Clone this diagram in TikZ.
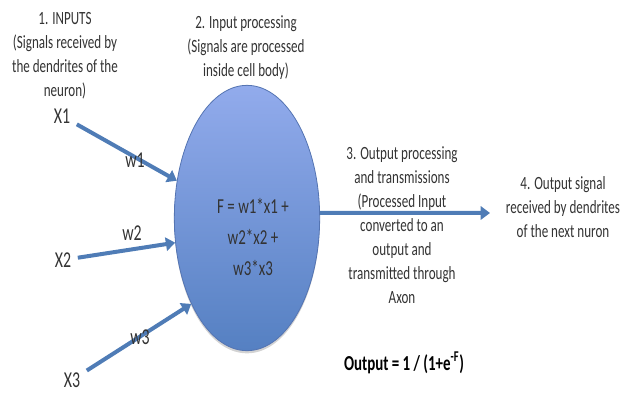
\documentclass[tikz,border=0pt]{standalone}
\usepackage{fontspec}
\setmainfont{Carlito}[FakeStretch=0.70]
\usetikzlibrary{arrows.meta,shapes.geometric,shadows}

\definecolor{wirec}{HTML}{4F7CB6}
\definecolor{cellhi}{HTML}{92ABEC}
\definecolor{celllo}{HTML}{5580C2}
\definecolor{celledge}{HTML}{5474B2}
\definecolor{txt}{HTML}{333333}

\begin{document}
\begin{tikzpicture}[x=0.75pt,y=-0.75pt,
      every node/.style={font=\fontsize{14}{18}\selectfont,text=txt},
      lbl/.style={align=center,inner sep=0pt},
      var/.style={font=\fontsize{17}{18}\selectfont,inner sep=3pt,outer sep=2pt},
      wt/.style={font=\fontsize{17}{18}\selectfont,inner sep=0pt},
      wire/.style={draw=wirec,line width=3pt,-{Triangle[length=7pt,width=10pt]}},
      cellbody/.style={ellipse,draw=celledge,line width=0.6pt,
        top color=cellhi,bottom color=celllo,
        minimum width=109pt,minimum height=199pt,inner sep=0pt,
        drop shadow={shadow xshift=0pt,shadow yshift=-2pt,opacity=0.35}}]
      \useasboundingbox (0,0) rectangle (629,396);
      % cell body
      \node[cellbody] (cell) at (247,218) {};
      \node[lbl,font=\fontsize{16}{23}\selectfont] (fsum) at (253,237)
        {F = w1*x1 +\\w2*x2 +\\w3*x3};
      % captions
      \node[lbl] (inputs) at (65,56)
        {1. INPUTS\\(Signals received by\\the dendrites of the\\neuron)};
      \node[lbl] (proc) at (246,48)
        {2. Input processing\\(Signals are processed\\inside cell body)};
      \node[lbl] (outproc) at (402,225)
        {3. Output processing\\and transmissions\\(Processed Input\\converted to an\\output and\\transmitted through\\Axon};
      \node[lbl] (sig) at (563,207)
        {4. Output signal\\received by dendrites\\of the next nuron};
      \node[lbl,font=\fontsize{16}{18}\selectfont\bfseries,text=black] (sigmoid) at (404,363)
        {Output = 1 / (1+e\textsuperscript{-F})};
      % inputs and weights
      \node[var] (x1) at (62,116) {X1};
      \node[var] (x2) at (63,260) {X2};
      \node[var] (x3) at (72,380) {X3};
      \coordinate (axon) at (490,213);
      \draw[wire] (x1) -- (cell.152);
      \draw[wire] (x2) -- (cell.199);
      \draw[wire] (x3) -- (cell.237);
      \draw[wire] (cell.4) -- (axon);
      \node[wt] (w1) at (135,160) {w1};
      \node[wt] (w2) at (132,233) {w2};
      \node[wt] (w3) at (140,337) {w3};
    \end{tikzpicture}
\end{document}
